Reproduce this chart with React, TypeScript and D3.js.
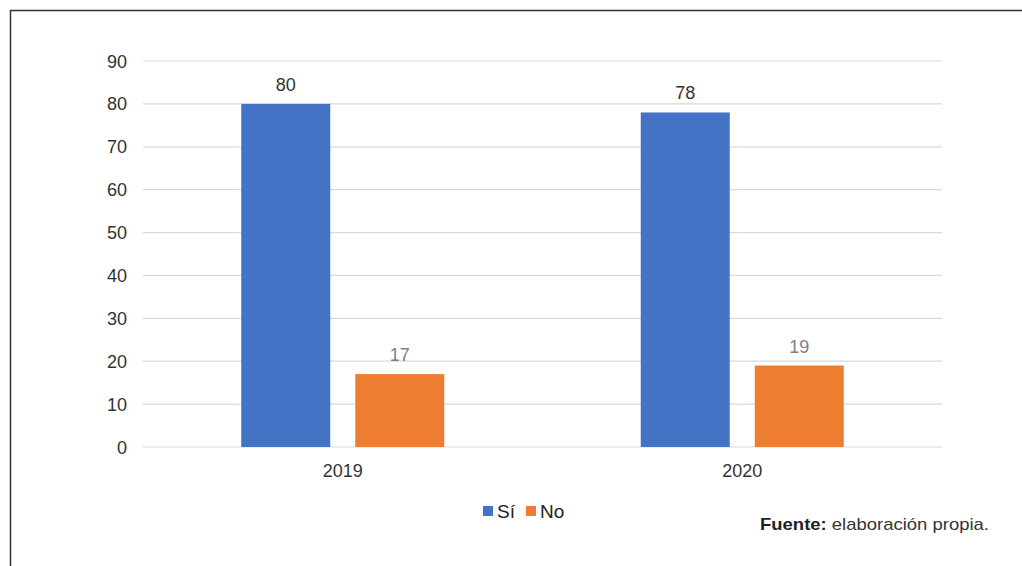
import React from "react";
import * as d3 from "d3";

const categories = ["2019", "2020"];
const seriesNames = ["Sí", "No"];
const siValues = [80, 78];
const noValues = [17, 19];
const yTicks = [0, 10, 20, 30, 40, 50, 60, 70, 80, 90];
const colors = ["#4472C4", "#ED7D31"];
const labelColors = ["#333333", "#808080"];

export default function App() {
  const W = 1022, H = 566;
  const left = 143, right = 942, top = 61, bottom = 447;
  const x = d3.scaleBand().domain(categories).range([left, right]).paddingInner(0).paddingOuter(0);
  const y = d3.scaleLinear().domain([0, 90]).range([bottom, top]);
  const barW = 89, gap = 25;
  const series = [siValues, noValues];
  const font = "'Liberation Sans', Arial, sans-serif";
  return (
    <svg width={W} height={H} style={{ position: "absolute", left: 0, top: 0, background: "#fff" }}>
      <rect x={0} y={0} width={W} height={H} fill="#fff" />
      <line x1={10.5} y1={10} x2={10.5} y2={H} stroke="#333" strokeWidth={1.5} />
      <line x1={10} y1={10.5} x2={W} y2={10.5} stroke="#333" strokeWidth={1.5} />
      {yTicks.map((t) => (
        <g key={t}>
          <line x1={left} x2={right} y1={y(t)} y2={y(t)} stroke="#d9d9d9" strokeWidth={1.2} />
          <text x={127} y={y(t) + 6.5} textAnchor="end" fontSize={18} fill="#333" fontFamily={font}>{t}</text>
        </g>
      ))}
      {categories.map((c, i) => {
        const cx = (x(c) as number) + x.bandwidth() / 2;
        const groupW = barW * 2 + gap;
        return (
          <g key={c}>
            {series.map((vals, s) => {
              const bx = cx - groupW / 2 + s * (barW + gap);
              return (
                <g key={s}>
                  <rect x={bx} y={y(vals[i])} width={barW} height={bottom - y(vals[i])} fill={colors[s]} />
                  <text x={bx + barW / 2} y={y(vals[i]) - 13} textAnchor="middle" fontSize={18} fill={labelColors[s]} fontFamily={font}>{vals[i]}</text>
                </g>
              );
            })}
            <text x={cx} y={477} textAnchor="middle" fontSize={18} fill="#333" fontFamily={font}>{c}</text>
          </g>
        );
      })}
      <g fontFamily={font} fontSize={19} fill="#222">
        <rect x={483} y={506} width={10} height={10} fill={colors[0]} />
        <text x={497} y={518}>{seriesNames[0]}</text>
        <rect x={526} y={506} width={10} height={10} fill={colors[1]} />
        <text x={540} y={518}>{seriesNames[1]}</text>
      </g>
      <text x={760} y={530} fontFamily={font} fontSize={17} fill="#333" textLength={229} lengthAdjust="spacingAndGlyphs">
        <tspan fontWeight="bold" fill="#222">Fuente:</tspan> elaboración propia.
      </text>
    </svg>
  );
}
